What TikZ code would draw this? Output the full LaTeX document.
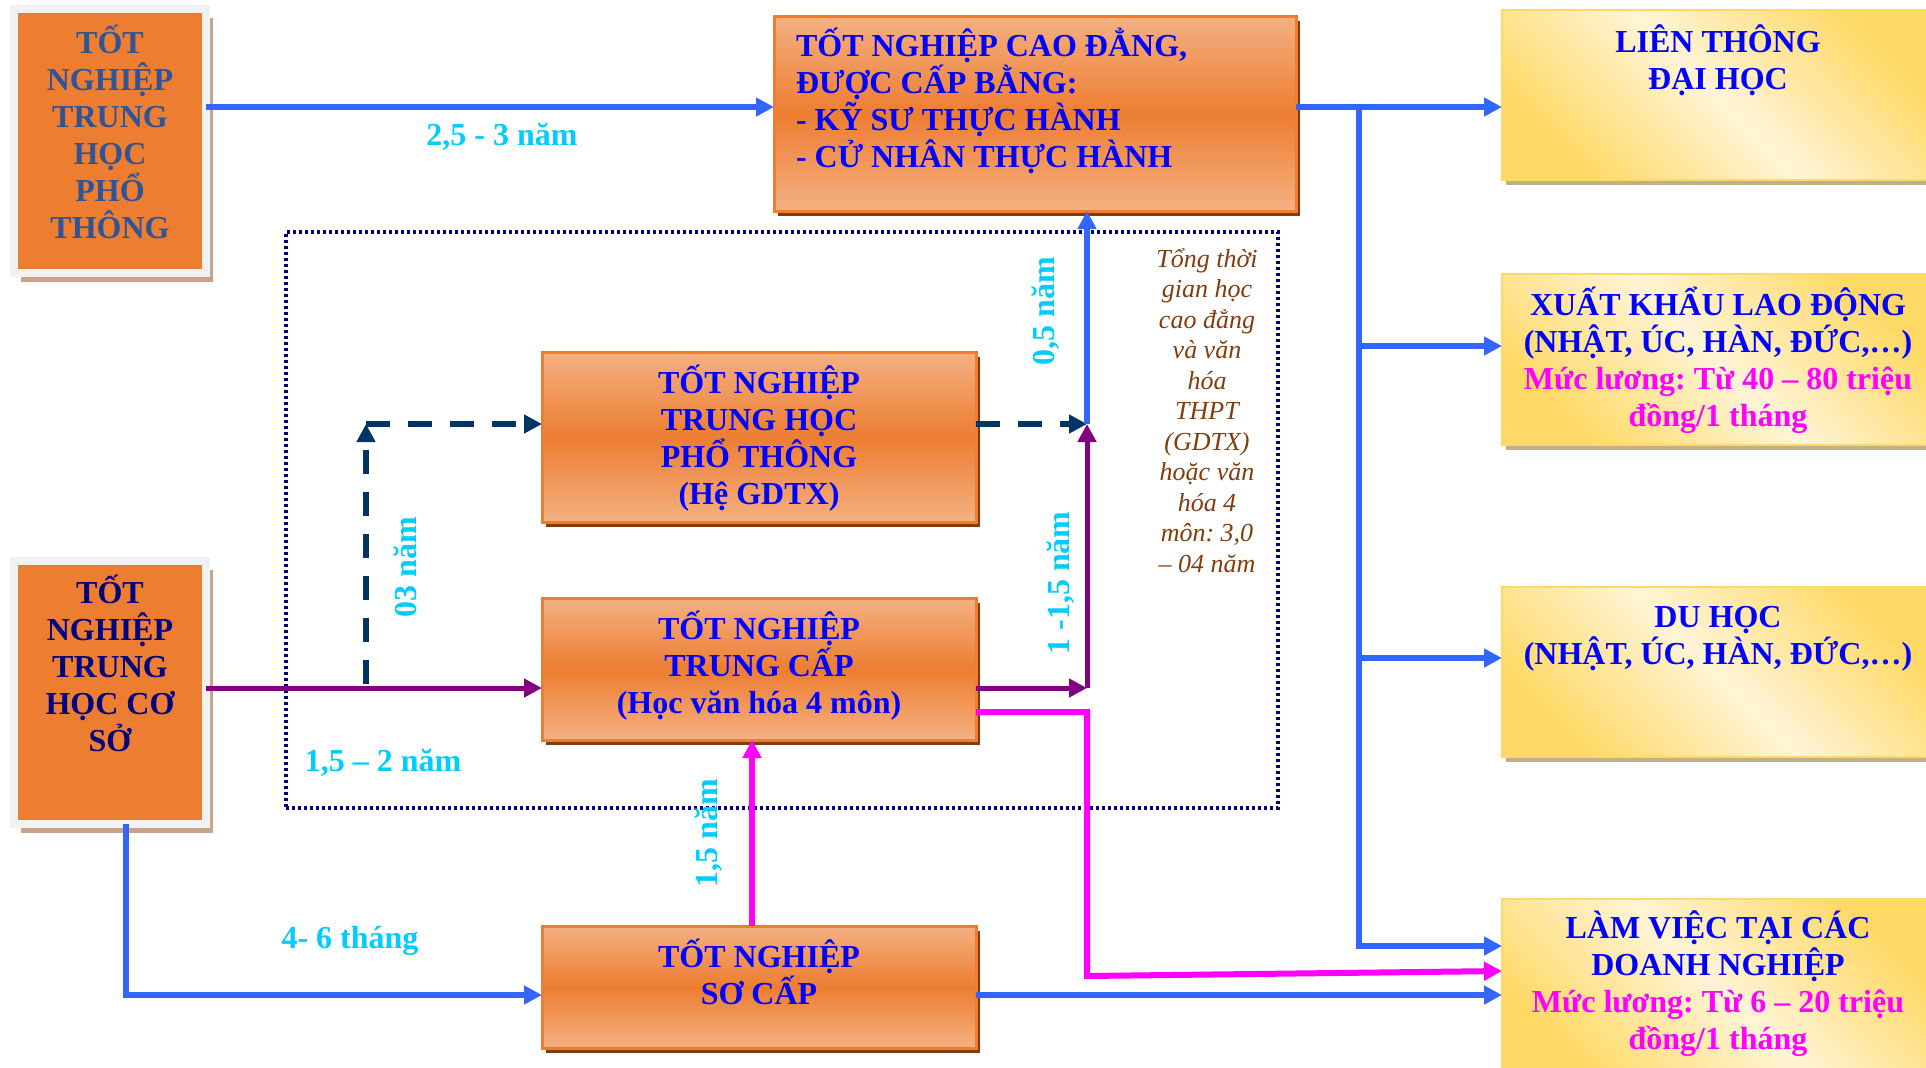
\documentclass[tikz,border=0pt]{standalone}
\usepackage{fontspec}
\setmainfont{Liberation Serif}
\frenchspacing
\usetikzlibrary{arrows.meta,shadows}
\definecolor{blueA}{HTML}{3366FF}
\definecolor{purpleA}{HTML}{800080}
\definecolor{magA}{HTML}{FF00FF}
\definecolor{navyD}{HTML}{003366}
\definecolor{cyanL}{HTML}{00CCFF}
\definecolor{dotN}{HTML}{000080}
\definecolor{orangeC}{HTML}{ED7D31}
\definecolor{orangeL}{HTML}{F4B183}
\definecolor{shadowB}{HTML}{843C0C}
\definecolor{yellowD}{HTML}{FFD966}
\definecolor{yellowL}{HTML}{FFF4D6}
\definecolor{yshadow}{HTML}{BFB08A}
\definecolor{frameG}{HTML}{F2F2F2}
\definecolor{tanS}{HTML}{C9A48A}
\definecolor{thptT}{HTML}{2F5597}
\definecolor{thcsT}{HTML}{000080}
\definecolor{brownT}{HTML}{843C0C}
\definecolor{blueT}{HTML}{0000FF}
\newcommand{\ptxt}[2]{\parbox[t]{#1}{\centering #2}}
\tikzset{
  every node/.style={inner sep=0pt, outer sep=0pt},
  lbox/.style={draw=frameG, line width=4pt, fill=orangeC,
    drop shadow={shadow xshift=3.5pt, shadow yshift=-4.5pt, fill=tanS, opacity=1}},
  obox/.style={draw=orangeC, line width=1.5pt, top color=orangeL, bottom color=orangeL, middle color=orangeC,
    drop shadow={shadow xshift=2pt, shadow yshift=-2.5pt, fill=shadowB, opacity=1}},
  ybox/.style={draw=yellowD, line width=1pt, top color=yellowD, bottom color=yellowD, middle color=yellowL, shading angle=-45,
    drop shadow={shadow xshift=2pt, shadow yshift=-2.5pt, fill=yshadow, opacity=1}},
  dotbox/.style={draw=dotN, line width=1.6pt, dash pattern=on 1.6pt off 1.4pt},
  btxt/.style={font=\fontsize{16}{18.5}\selectfont\bfseries, text=blueT, anchor=base},
  lbl/.style={font=\fontsize{16}{18}\selectfont\bfseries, text=cyanL},
  note/.style={font=\fontsize{13}{15.25}\selectfont\itshape, text=brownT, anchor=base},
  barrow/.style={draw=blueA, line width=2.6pt, -{Triangle[length=9pt,width=9pt]}},
  parrow/.style={draw=purpleA, line width=2.5pt, -{Triangle[length=9pt,width=9pt]}},
  marrow/.style={draw=magA, line width=3pt, -{Triangle[length=9pt,width=9pt]}},
  darrow/.style={draw=navyD, line width=3pt, dash pattern=on 12pt off 9pt, -{Triangle[length=9pt,width=9pt]}}
}
\begin{document}
\begin{tikzpicture}[x=0.5pt, y=-0.5pt]
\useasboundingbox (0,0) rectangle (1926,1067);
\fill[white] (0,0) rectangle (1926,1067);

% group frame
\node[dotbox, minimum width=496pt, minimum height=288pt] (grp) at (782,520) {};

% left boxes
\node[lbox, minimum width=96pt, minimum height=132pt] (thpt) at (110,141) {};
\node[lbox, minimum width=96pt, minimum height=131.5pt] (thcs) at (110,692.5) {};
% orange boxes
\node[obox, minimum width=261pt, minimum height=97.5pt] (cd) at (1035,113.5) {};
\node[obox, minimum width=217pt, minimum height=85pt] (gdtx) at (759,437) {};
\node[obox, minimum width=217pt, minimum height=71pt] (tc) at (759,669) {};
\node[obox, minimum width=217pt, minimum height=61pt] (sc) at (759,987) {};
% yellow boxes
\node[ybox, minimum width=215pt, minimum height=85pt] (lt) at (1717,95) {};
\node[ybox, minimum width=215pt, minimum height=85.5pt] (xk) at (1717,359.5) {};
\node[ybox, minimum width=215pt, minimum height=85pt] (dh) at (1717,672) {};
\node[ybox, minimum width=215pt, minimum height=88pt] (lv) at (1717,987) {};

% texts
\node[btxt, text=thptT] (thptX) at (110,53) {\ptxt{90pt}{TỐT\\NGHIỆP\\TRUNG\\HỌC\\PHỔ\\THÔNG}};
\node[btxt, text=thcsT] (thcsX) at (110,603) {\ptxt{90pt}{TỐT\\NGHIỆP\\TRUNG\\HỌC CƠ\\SỞ}};
\node[btxt, anchor=base west] (cdX) at (796,56) {\parbox[t]{250pt}{\raggedright TỐT NGHIỆP CAO ĐẲNG,\\ĐƯỢC CẤP BẰNG:\\- KỸ SƯ THỰC HÀNH\\- CỬ NHÂN THỰC HÀNH}};
\node[btxt] (gdtxX) at (759,393) {\ptxt{210pt}{TỐT NGHIỆP\\TRUNG HỌC\\PHỔ THÔNG\\(Hệ GDTX)}};
\node[btxt] (tcX) at (759,639) {\ptxt{210pt}{TỐT NGHIỆP\\TRUNG CẤP\\(Học văn hóa 4 môn)}};
\node[btxt] (scX) at (759,967) {\ptxt{210pt}{TỐT NGHIỆP\\SƠ CẤP}};
\node[btxt] (ltX) at (1718,52) {\ptxt{212pt}{LIÊN THÔNG\\ĐẠI HỌC}};
\node[btxt] (xkX) at (1718,315) {\ptxt{212pt}{XUẤT KHẨU LAO ĐỘNG\\(NHẬT, ÚC, HÀN, ĐỨC,…)\\\textcolor{magA}{Mức lương: Từ 40 – 80 triệu}\\\textcolor{magA}{đồng/1 tháng}}};
\node[btxt] (dhX) at (1718,627) {\ptxt{212pt}{DU HỌC\\(NHẬT, ÚC, HÀN, ĐỨC,…)}};
\node[btxt] (lvX) at (1718,938) {\ptxt{212pt}{LÀM VIỆC TẠI CÁC\\DOANH NGHIỆP\\\textcolor{magA}{Mức lương: Từ 6 – 20 triệu}\\\textcolor{magA}{đồng/1 tháng}}};
\node[note] (tong) at (1207,267) {\ptxt{60pt}{Tổng thời\\gian học\\cao đẳng\\và văn\\hóa\\THPT\\(GDTX)\\hoặc văn\\hóa 4\\môn: 3,0\\– 04 năm}};

% labels
\node[lbl, anchor=base] (l1) at (502,145) {2,5 - 3 năm};
\node[lbl, anchor=base] (l2) at (383,771) {1,5 – 2 năm};
\node[lbl, anchor=base] (l3) at (350,948) {4- 6 tháng};
\node[lbl, rotate=90] (l4) at (405,567) {03 năm};
\node[lbl, rotate=90] (l5) at (709,833) {1,5 năm};
\node[lbl, rotate=90] (l6) at (1046,311) {0,5 năm};
\node[lbl, rotate=90] (l7) at (1061,583) {1 -1,5 năm};

% coordinates
\coordinate (cy) at (0,107);
\coordinate (t0) at (1359,107);
\coordinate (t1) at (1359,346);
\coordinate (t2) at (1359,658);
\coordinate (t3) at (1359,946);
\coordinate (d0) at (366,684);
\coordinate (d1) at (366,424);
\coordinate (j) at (1087,424);
\coordinate (pj) at (1087,688);
\coordinate (m0) at (0,712);
\coordinate (m1) at (1087,712);
\coordinate (m2) at (1087,976);
\coordinate (m3) at (0,971);
\coordinate (mx) at (752,0);
\coordinate (bx) at (126,0);
\coordinate (by) at (0,995);

% connectors
\draw[barrow] (thpt.east |- cy) -- (cd.west |- cy);
\draw[barrow] (cd.east |- cy) -- (lt.west |- cy);
\draw[barrow] (t0) |- (lv.west |- t3);
\draw[barrow] (t1) -- (xk.west |- t1);
\draw[barrow] (t2) -- (dh.west |- t2);
\draw[darrow] (d0) -- (d1);
\draw[darrow] (d1) -- (gdtx.west |- d1);
\draw[parrow] (thcs.east |- pj) -- (tc.west |- pj);
\draw[darrow] (gdtx.east |- j) -- (j);
\draw[parrow] (tc.east |- pj) -- (pj);
\draw[parrow] (pj) -- (j);
\draw[barrow] (j) -- (cd.south -| j);
\draw[marrow] (tc.east |- m0) -- (m1) -- (m2) -- (lv.west |- m3);
\draw[marrow] (sc.north -| mx) -- (tc.south -| mx);
\draw[barrow] (thcs.south -| bx) |- (sc.west |- by);
\draw[barrow] (sc.east |- by) -- (lv.west |- by);
\end{tikzpicture}
\end{document}
